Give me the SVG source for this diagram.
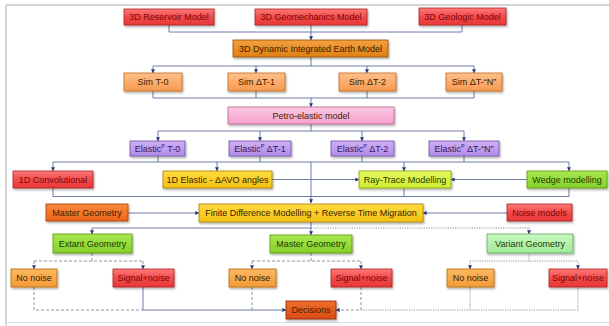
<svg xmlns="http://www.w3.org/2000/svg" width="609" height="326" viewBox="0 0 609 326">
<defs>
<filter id="sh" x="-10%" y="-20%" width="130%" height="160%">
<feDropShadow dx="1" dy="1.5" stdDeviation="0.8" flood-color="#000" flood-opacity="0.35"/>
</filter>
<marker id="ar" viewBox="0 0 6 6" refX="5.5" refY="3" markerWidth="4.5" markerHeight="4.5" orient="auto">
<path d="M0,0 L6,3 L0,6 z" fill="#2b3a78"/>
</marker>
<linearGradient id="gRed" x1="0" y1="0" x2="0" y2="1"><stop offset="0" stop-color="#ff7a7a"/><stop offset="0.5" stop-color="#f24a4a"/><stop offset="1" stop-color="#e83838"/></linearGradient>
<linearGradient id="gOrange" x1="0" y1="0" x2="0" y2="1"><stop offset="0" stop-color="#f2a040"/><stop offset="1" stop-color="#e07f10"/></linearGradient>
<linearGradient id="gSim" x1="0" y1="0" x2="0" y2="1"><stop offset="0" stop-color="#ffc08a"/><stop offset="1" stop-color="#f79a50"/></linearGradient>
<linearGradient id="gPink" x1="0" y1="0" x2="0" y2="1"><stop offset="0" stop-color="#fcc8e4"/><stop offset="1" stop-color="#f5a0cc"/></linearGradient>
<linearGradient id="gLav" x1="0" y1="0" x2="0" y2="1"><stop offset="0" stop-color="#cfb0f5"/><stop offset="1" stop-color="#b08ce8"/></linearGradient>
<linearGradient id="gGold" x1="0" y1="0" x2="0" y2="1"><stop offset="0" stop-color="#ffdc40"/><stop offset="1" stop-color="#f2c010"/></linearGradient>
<linearGradient id="gYG" x1="0" y1="0" x2="0" y2="1"><stop offset="0" stop-color="#e6f860"/><stop offset="1" stop-color="#ccec30"/></linearGradient>
<linearGradient id="gGreen" x1="0" y1="0" x2="0" y2="1"><stop offset="0" stop-color="#a8e850"/><stop offset="1" stop-color="#84d02a"/></linearGradient>
<linearGradient id="gLG" x1="0" y1="0" x2="0" y2="1"><stop offset="0" stop-color="#c8f8c0"/><stop offset="1" stop-color="#a0eb98"/></linearGradient>
<linearGradient id="gMast" x1="0" y1="0" x2="0" y2="1"><stop offset="0" stop-color="#f88a40"/><stop offset="1" stop-color="#ec6418"/></linearGradient>
<linearGradient id="gNo" x1="0" y1="0" x2="0" y2="1"><stop offset="0" stop-color="#fbb860"/><stop offset="1" stop-color="#f59a38"/></linearGradient>
<linearGradient id="gDec" x1="0" y1="0" x2="0" y2="1"><stop offset="0" stop-color="#f07030"/><stop offset="1" stop-color="#d84a10"/></linearGradient>
</defs>
<style>
rect.b{stroke-width:0.8;filter:url(#sh)}
.red{fill:url(#gRed);stroke:#b02020}
.org{fill:url(#gOrange);stroke:#9a5000}
.sim{fill:url(#gSim);stroke:#c06a20}
.pnk{fill:url(#gPink);stroke:#c0608a}
.lav{fill:url(#gLav);stroke:#7050a8}
.gld{fill:url(#gGold);stroke:#a88000}
.yg{fill:url(#gYG);stroke:#8aa010}
.grn{fill:url(#gGreen);stroke:#5a9a10}
.lg{fill:url(#gLG);stroke:#60a860}
.mst{fill:url(#gMast);stroke:#a84000}
.nn{fill:url(#gNo);stroke:#b86a10}
.dec{fill:url(#gDec);stroke:#902800}
text{font-family:"Liberation Sans",Arial,sans-serif;font-size:9px;text-anchor:middle;dominant-baseline:central}
.tr{fill:#7a0808}
.td{fill:#3a2200}
.tp{fill:#3a1660}
.tg{fill:#1e3a00}
.sup{font-size:5.5px}
.c{fill:none;stroke:#5b6c9e;stroke-width:0.9}
.dash{stroke-dasharray:3,2;stroke:#808898}
.dot{stroke-dasharray:1.2,1.2;stroke:#808898}
</style>
<rect x="0" y="0" width="609" height="326" fill="#fff"/>
<path d="M6,326 V5 H609" fill="none" stroke="#aaaaaa" stroke-width="1"/>
<path d="M6,322.5 H609" fill="none" stroke="#dddddd" stroke-width="1"/>

<g id="connectors">
<path class="c" d="M169,25 V32 H462 V25"/>
<path class="c" d="M311,25 V40" marker-end="url(#ar)"/>
<path class="c" d="M311,57 V66 M153,66 H474"/>
<path class="c" d="M153,66 V73" marker-end="url(#ar)"/>
<path class="c" d="M256,66 V73" marker-end="url(#ar)"/>
<path class="c" d="M367,66 V73" marker-end="url(#ar)"/>
<path class="c" d="M474,66 V73" marker-end="url(#ar)"/>
<path class="c" d="M153,91 V98 H474 V91 M256,91 V98 M367,91 V98"/>
<path class="c" d="M311,98 V107" marker-end="url(#ar)"/>
<path class="c" d="M311,124 V131 M158,131 H464"/>
<path class="c" d="M158,131 V141" marker-end="url(#ar)"/>
<path class="c" d="M260,131 V141" marker-end="url(#ar)"/>
<path class="c" d="M362,131 V141" marker-end="url(#ar)"/>
<path class="c" d="M464,131 V141" marker-end="url(#ar)"/>
<path class="c" d="M158,156 V162 M260,156 V162 M362,156 V162 M464,156 V162 M53,162 H569"/>
<path class="c" d="M53,162 V171" marker-end="url(#ar)"/>
<path class="c" d="M217,162 V171" marker-end="url(#ar)"/>
<path class="c" d="M404,162 V171" marker-end="url(#ar)"/>
<path class="c" d="M569,162 V171" marker-end="url(#ar)"/>
<path class="c" d="M311,162 V203" marker-end="url(#ar)"/>
<path class="c" d="M272,179.5 H359" marker-end="url(#ar)"/>
<path class="c" d="M527,179.5 H451" marker-end="url(#ar)"/>
<path class="c" d="M53,188 V196.5 H569 V188 M404,188 V196.5"/>
<path class="c" d="M128,213 H199" marker-end="url(#ar)"/>
<path class="c" d="M507,213 H423" marker-end="url(#ar)"/>
<path class="c" d="M311,222 V228 M92,228 H311"/>
<path class="c dot" d="M311,228 H529"/>
<path class="c" d="M92,228 V234" marker-end="url(#ar)"/>
<path class="c" d="M311,228 V235" marker-end="url(#ar)"/>
<path class="c dot" d="M529,228 V234" marker-end="url(#ar)"/>
<path class="c dash" d="M92,253 V261 M34,261 H143"/>
<path class="c dash" d="M34,261 V269" marker-end="url(#ar)"/>
<path class="c dash" d="M143,261 V269" marker-end="url(#ar)"/>
<path class="c dash" d="M311,253 V261 M252,261 H361"/>
<path class="c dash" d="M252,261 V269" marker-end="url(#ar)"/>
<path class="c dash" d="M361,261 V269" marker-end="url(#ar)"/>
<path class="c dot" d="M529,253 V261 M470,261 H578"/>
<path class="c dot" d="M470,261 V269" marker-end="url(#ar)"/>
<path class="c dot" d="M578,261 V269" marker-end="url(#ar)"/>
<path class="c dash" d="M34,287 V310 H143 M252,287 V310"/>
<path class="c" d="M143,287 V310 H286" marker-end="url(#ar)"/>
<path class="c dash" d="M361,287 V310 H336" marker-end="url(#ar)"/>
<path class="c dot" d="M361,310 H578 V287 M470,287 V310"/>
</g>

<g id="reservoir"><rect class="b red" x="124" y="9" width="90" height="16"/><text class="tr" x="169" y="17">3D Reservoir Model</text></g>
<g id="geomechanics"><rect class="b red" x="255" y="9" width="112" height="16"/><text class="tr" x="311" y="17">3D Geomechanics Model</text></g>
<g id="geologic"><rect class="b red" x="419" y="8" width="87" height="17"/><text class="tr" x="462.5" y="16.5">3D Geologic Model</text></g>

<g id="earth"><rect class="b org" x="233" y="40" width="155" height="17"/><text class="td" x="310.5" y="48.5">3D Dynamic Integrated Earth Model</text></g>

<g id="sim0"><rect class="b sim" x="124" y="73" width="58" height="18"/><text class="td" x="153" y="82">Sim T-0</text></g>
<g id="sim1"><rect class="b sim" x="228" y="73" width="57" height="18"/><text class="td" x="256.5" y="82">Sim ΔT-1</text></g>
<g id="sim2"><rect class="b sim" x="339" y="73" width="57" height="18"/><text class="td" x="367.5" y="82">Sim ΔT-2</text></g>
<g id="simN"><rect class="b sim" x="446" y="73" width="56" height="18"/><text class="td" x="474" y="82">Sim ΔT-“N”</text></g>

<g id="petro"><rect class="b pnk" x="228" y="107" width="166" height="17"/><text class="td" x="311" y="115.5">Petro-elastic model</text></g>

<g id="el0"><rect class="b lav" x="130" y="141" width="55" height="15"/><text class="tp" x="157.5" y="148.5">Elastic<tspan class="sup" dy="-2.5">P</tspan><tspan dy="2.5"> T-0</tspan></text></g>
<g id="el1"><rect class="b lav" x="229" y="141" width="62" height="15"/><text class="tp" x="260" y="148.5">Elastic<tspan class="sup" dy="-2.5">P</tspan><tspan dy="2.5"> ΔT-1</tspan></text></g>
<g id="el2"><rect class="b lav" x="331" y="141" width="63" height="15"/><text class="tp" x="362.5" y="148.5">Elastic<tspan class="sup" dy="-2.5">P</tspan><tspan dy="2.5"> ΔT-2</tspan></text></g>
<g id="elN"><rect class="b lav" x="429" y="141" width="70" height="15"/><text class="tp" x="464" y="148.5">Elastic<tspan class="sup" dy="-2.5">P</tspan><tspan dy="2.5"> ΔT-“N”</tspan></text></g>

<g id="conv"><rect class="b red" x="13" y="171" width="80" height="17"/><text class="tr" x="53" y="179.5">1D Convolutional</text></g>
<g id="avo"><rect class="b gld" x="163" y="171" width="109" height="17"/><text class="td" x="217.5" y="179.5">1D Elastic - ΔAVO angles</text></g>
<g id="raytrace"><rect class="b yg" x="359" y="171" width="92" height="17"/><text class="tg" x="405" y="179.5">Ray-Trace Modelling</text></g>
<g id="wedge"><rect class="b grn" x="527" y="171" width="80" height="17"/><text class="tg" x="567" y="179.5">Wedge modelling</text></g>

<g id="mastergeo1"><rect class="b mst" x="46" y="204" width="82" height="17"/><text class="td" x="87" y="212.5">Master Geometry</text></g>
<g id="fd"><rect class="b gld" x="199" y="204" width="224" height="18"/><text class="td" x="311" y="213">Finite Difference Modelling + Reverse Time Migration</text></g>
<g id="noisemodels"><rect class="b red" x="507" y="204" width="65" height="17"/><text class="tr" x="539.5" y="212.5">Noise models</text></g>

<g id="extant"><rect class="b grn" x="53" y="234" width="79" height="19"/><text class="tg" x="92.5" y="243.5">Extant Geometry</text></g>
<g id="mastergeo2"><rect class="b grn" x="270" y="235" width="82" height="18"/><text class="tg" x="311" y="244">Master Geometry</text></g>
<g id="variant"><rect class="b lg" x="487" y="234" width="86" height="19"/><text class="tg" x="530" y="243.5">Variant Geometry</text></g>

<g id="nonoise1"><rect class="b nn" x="11" y="269" width="46" height="18"/><text class="td" x="34" y="278">No noise</text></g>
<g id="signal1"><rect class="b red" x="113" y="269" width="61" height="18"/><text class="tr" x="143.5" y="278">Signal+noise</text></g>
<g id="nonoise2"><rect class="b nn" x="229" y="269" width="47" height="18"/><text class="td" x="252.5" y="278">No noise</text></g>
<g id="signal2"><rect class="b red" x="331" y="269" width="61" height="18"/><text class="tr" x="361.5" y="278">Signal+noise</text></g>
<g id="nonoise3"><rect class="b nn" x="447" y="269" width="47" height="18"/><text class="td" x="470.5" y="278">No noise</text></g>
<g id="signal3"><rect class="b red" x="549" y="269" width="58" height="18"/><text class="tr" x="578" y="278">Signal+noise</text></g>

<g id="decisions"><rect class="b dec" x="286" y="301" width="50" height="18"/><text class="td" x="311" y="310">Decisions</text></g>
</svg>
